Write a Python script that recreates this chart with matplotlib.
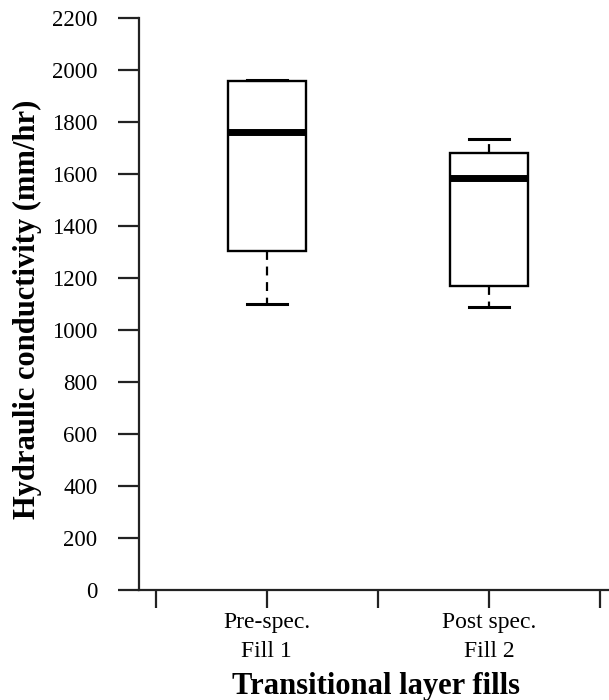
import matplotlib
matplotlib.use("Agg")
import matplotlib.pyplot as plt

categories = ["Pre-spec.\nFill 1", "Post spec.\nFill 2"]
whisker_low = [1100, 1087]
q1 = [1304, 1170]
median = [1763, 1586]
q3 = [1958, 1680]
whisker_high = [1962, 1733]
y_ticks = [0, 200, 400, 600, 800, 1000, 1200, 1400, 1600, 1800, 2000, 2200]

plt.rcParams['font.family'] = ['Liberation Serif', 'DejaVu Serif']

fig = plt.figure(figsize=(6.09, 7.0), dpi=100)
ax = fig.add_axes([139/609, 1-590/700, 1-139/609, (590-18)/700])

stats = []
for i in range(len(categories)):
    stats.append(dict(whislo=whisker_low[i], q1=q1[i], med=median[i],
                      q3=q3[i], whishi=whisker_high[i], fliers=[]))

ax.bxp(stats, positions=[1, 2], widths=0.35, showfliers=False,
       patch_artist=True,
       boxprops=dict(facecolor='white', edgecolor='black', linewidth=1.7),
       medianprops=dict(color='black', linewidth=5),
       whiskerprops=dict(color='black', linewidth=1.6, linestyle=(0, (4, 3))),
       capprops=dict(color='black', linewidth=2.2),
       capwidths=0.18)

ax.set_ylim(0, 2200)
ax.set_xlim(0.425, 2.54)
ax.set_yticks(y_ticks)
ax.set_yticklabels([str(v) for v in y_ticks], fontsize=16.5)
ax.set_xticks([0.5, 1, 1.5, 2, 2.5])
ax.set_xticklabels(["", categories[0], "", categories[1], ""], fontsize=17,
                   linespacing=1.5)
ax.tick_params(axis='y', length=15, width=1.6, pad=15, colors='#222222')
ax.tick_params(axis='x', length=13, width=1.6, pad=3, colors='#222222')
for lbl in ax.get_xticklabels() + ax.get_yticklabels():
    lbl.set_color('black')

for s in ['top', 'right']:
    ax.spines[s].set_visible(False)
for s in ['left', 'bottom']:
    ax.spines[s].set_linewidth(1.6)
    ax.spines[s].set_color('#222222')

ax.set_ylabel("Hydraulic conductivity (mm/hr)", fontsize=22, fontweight='bold')
ax.yaxis.set_label_coords(-0.206, 0.49)
ax.set_xlabel("Transitional layer fills", fontsize=22, fontweight='bold')
ax.xaxis.set_label_coords(0.504, -0.143)

fig.savefig("out.png", dpi=100)
